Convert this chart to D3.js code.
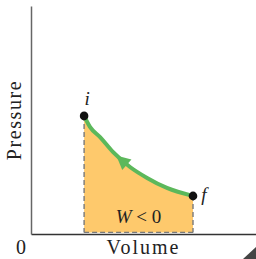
<!DOCTYPE html>
<html>
<head>
<meta charset="utf-8">
<script src="https://cdn.jsdelivr.net/npm/d3@7"></script>
<style>
  body { margin: 0; background: #fff; }
  text { font-family: "Liberation Serif", "DejaVu Serif", serif; fill: #222; }
</style>
</head>
<body>
<div id="chart"></div>
<script>
// state points and curve (volume, pressure in chart units 0..1)
const stateNames = ["i", "f"];
const stateV = [0.236, 0.720];
const stateP = [0.518, 0.167];
const curveV = [0.236, 0.262, 0.307, 0.364, 0.440, 0.516, 0.604, 0.720];
const curveP = [0.518, 0.470, 0.425, 0.360, 0.294, 0.246, 0.202, 0.167];
const axisLabels = ["Volume", "Pressure", "0"];

const margin = { top: 6, right: 0, bottom: 25, left: 31 };
const W = 256, H = 259;
const width = W - margin.left - margin.right;
const height = H - margin.top - margin.bottom;

const svg = d3.select("#chart").append("svg")
  .attr("width", W).attr("height", H);
const g = svg.append("g")
  .attr("transform", "translate(" + margin.left + "," + margin.top + ")");

const x = d3.scaleLinear().domain([0, 1]).range([0, width]);
const y = d3.scaleLinear().domain([0, 1]).range([height, 0]);

// work area under the curve
const pts = curveV.map((v, k) => [v, curveP[k]]);
const area = d3.area()
  .x(d => x(d[0])).y0(y(0.007)).y1(d => y(d[1]))
  .curve(d3.curveMonotoneX);
g.append("path").datum(pts)
  .attr("d", area)
  .style("fill", "#fec96c");

// dashed edges
const dash = g.append("g")
  .style("stroke", "#7a7a7a").style("stroke-width", 1.4)
  .style("stroke-dasharray", "5,3").style("fill", "none");
stateV.forEach((v, k) => {
  dash.append("line")
    .attr("x1", x(v)).attr("x2", x(v))
    .attr("y1", y(stateP[k])).attr("y2", y(0.007));
});
dash.append("line")
  .attr("x1", x(stateV[0])).attr("x2", x(stateV[1]))
  .attr("y1", y(0.007)).attr("y2", y(0.007));

// axes
const xAxis = d3.axisBottom(x).ticks(0).tickSize(0).tickSizeOuter(0);
const yAxis = d3.axisLeft(y).ticks(0).tickSize(0).tickSizeOuter(0);
g.append("g").attr("transform", "translate(0," + height + ")").call(xAxis)
  .select(".domain").style("stroke", "#333").style("stroke-width", 1.5);
g.append("g").call(yAxis)
  .select(".domain").style("stroke", "#666").style("stroke-width", 1.5);

// isothermal curve
const line = d3.line().x(d => x(d[0])).y(d => y(d[1])).curve(d3.curveMonotoneX);
const curve = g.append("path").datum(pts)
  .attr("d", line)
  .style("fill", "none").style("stroke", "#5cb85b").style("stroke-width", 4);

// arrowhead pointing from f toward i
const node = curve.node();
const L = node.getTotalLength();
const at = L * 0.42;
const p0 = node.getPointAtLength(at - 1), p1 = node.getPointAtLength(at + 1);
const ang = Math.atan2(p0.y - p1.y, p0.x - p1.x) * 180 / Math.PI;
const pc = node.getPointAtLength(at);
g.append("path")
  .attr("d", "M7,0 L-7,-7 L-7,7 Z")
  .attr("transform", "translate(" + pc.x + "," + pc.y + ") rotate(" + ang + ")")
  .style("fill", "#5cb85b");

// state points
g.selectAll(".pt").data(stateV).enter().append("circle")
  .attr("class", "pt")
  .attr("cx", d => x(d)).attr("cy", (d, k) => y(stateP[k]))
  .attr("r", 4.3).style("fill", "#111");

g.append("text")
  .attr("x", x(stateV[0]) + 3).attr("y", y(stateP[0]) - 11)
  .attr("text-anchor", "middle")
  .style("font-size", "19px").style("font-style", "italic")
  .text(stateNames[0]);
g.append("text")
  .attr("x", x(stateV[1]) + 11).attr("y", y(stateP[1]) + 5)
  .attr("text-anchor", "middle")
  .style("font-size", "19px").style("font-style", "italic")
  .text(stateNames[1]);

// W < 0
const wl = g.append("text")
  .attr("x", x((stateV[0] + stateV[1]) / 2))
  .attr("y", y(0.05))
  .attr("text-anchor", "middle")
  .style("font-size", "19px");
wl.append("tspan").style("font-style", "italic").text("W");
wl.append("tspan").text(" < 0");

// axis labels
g.append("text")
  .attr("x", x(0.5)).attr("y", height + 20)
  .attr("text-anchor", "middle")
  .style("font-size", "20px").style("letter-spacing", "2px")
  .text(axisLabels[0]);
g.append("text")
  .attr("transform", "translate(-10," + y(0.5) + ") rotate(-90)")
  .attr("text-anchor", "middle")
  .style("font-size", "20px").style("letter-spacing", "1.6px")
  .text(axisLabels[1]);
g.append("text")
  .attr("x", -10).attr("y", height + 20)
  .attr("text-anchor", "middle")
  .style("font-size", "20px")
  .text(axisLabels[2]);

// cut-off arrowhead in the corner
svg.append("path")
  .attr("d", "M243,259 L256,247 L256,259 Z")
  .style("fill", "#444");
</script>
</body>
</html>
